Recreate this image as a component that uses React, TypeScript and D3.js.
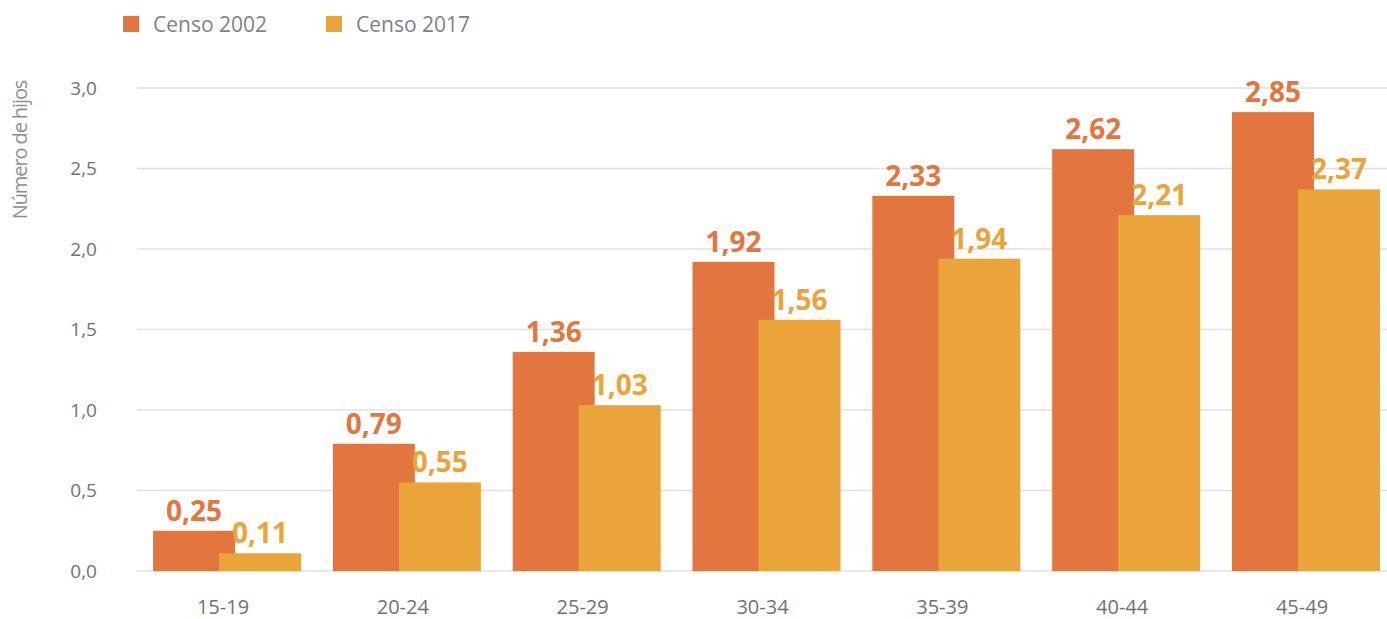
import React, { useEffect } from "react";
import * as d3 from "d3";

const categories = ["15-19", "20-24", "25-29", "30-34", "35-39", "40-44", "45-49"];
const censo2002 = [0.25, 0.79, 1.36, 1.92, 2.33, 2.62, 2.85];
const censo2017 = [0.11, 0.55, 1.03, 1.56, 1.94, 2.21, 2.37];
const yTicks = [0, 0.5, 1, 1.5, 2, 2.5, 3];
const seriesNames = ["Censo 2002", "Censo 2017"];

const W = 1387;
const H = 619;
const C1 = "#E3753E";
const C2 = "#EAA439";
const FONT = "'Open Sans', 'Noto Sans', sans-serif";

const fmt = (v: number, d: number) => v.toFixed(d).replace(".", ",");

export default function App() {
  useEffect(() => {
    document.body.style.margin = "0";
  }, []);

  const x = d3.scaleBand<string>().domain(categories).range([137, 1396]).paddingInner(0.177).paddingOuter(0.089);
  const y = d3.scaleLinear().domain([0, 3]).range([571, 88]);
  const bw = x.bandwidth();
  const barW = bw * 0.554;
  const off = bw - barW;

  return (
    <svg width={W} height={H} style={{ display: "block", fontFamily: FONT }}>
      <rect width={W} height={H} fill="#fff" />
      {yTicks.map((t) => (
        <g key={t}>
          <line x1={137} x2={W} y1={y(t)} y2={y(t)} stroke="#dfe0e6" strokeWidth={1.5} />
          <text x={97} y={y(t)} dy="0.35em" textAnchor="end" fontSize={19} fill="#6d727a">
            {fmt(t, 1)}
          </text>
        </g>
      ))}
      <text
        transform={`translate(27,150) rotate(-90)`}
        textAnchor="middle"
        fontSize={20}
        letterSpacing={-1.1}
        fill="#8b9098"
      >
        Número de hijos
      </text>
      {categories.map((c, i) => {
        const x0 = x(c)!;
        return (
          <g key={c}>
            <rect x={x0} y={y(censo2002[i])} width={barW} height={y(0) - y(censo2002[i])} fill={C1} />
            <rect x={x0 + off} y={y(censo2017[i])} width={barW} height={y(0) - y(censo2017[i])} fill={C2} />
            <text x={x0 + barW / 2} y={y(censo2002[i]) - 10} textAnchor="middle" fontSize={28} fontWeight={700} fill={C1}>
              {fmt(censo2002[i], 2)}
            </text>
            <text x={x0 + off + barW / 2} y={y(censo2017[i]) - 10} textAnchor="middle" fontSize={28} fontWeight={700} fill={C2}>
              {fmt(censo2017[i], 2)}
            </text>
            <text x={x0 + bw / 2 - 4} y={614} textAnchor="middle" fontSize={20} fill="#6d727a">
              {c}
            </text>
          </g>
        );
      })}
      {seriesNames.map((s, i) => (
        <g key={s} transform={`translate(${123 + i * 203},16)`}>
          <rect width={16} height={16} fill={i === 0 ? C1 : C2} />
          <text x={30} y={8} dy="0.36em" fontSize={21} fill="#7d828a">
            {s}
          </text>
        </g>
      ))}
    </svg>
  );
}
